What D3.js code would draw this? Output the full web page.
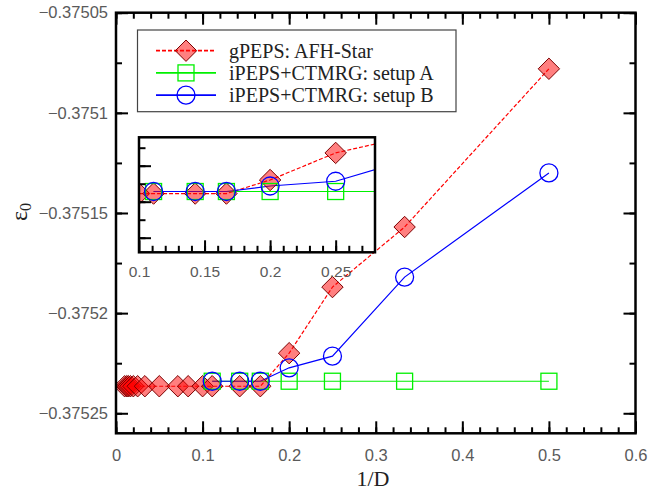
<!DOCTYPE html>
<html>
<head>
<meta charset="utf-8">
<style>
body { margin: 0; background: #fff; }
svg { display: block; }
.tick text { font-family: "Liberation Sans", Arial, sans-serif; fill: #5a5a5a; }
.tick line { stroke: #000; }
</style>
</head>
<body>
<svg width="649" height="498"></svg>
<script src="https://cdn.jsdelivr.net/npm/d3@7/dist/d3.min.js"></script>
<script>

// bond dimension D, plotted at x = 1/D
var gpepsD = [2, 3, 4, 5, 6, 7, 9, 10, 12, 14, 20, 30, 40, 50, 60, 70, 80, 100];
var gpepsE = [-0.375078, -0.375157, -0.375187, -0.37522, -0.3752365, -0.3752365, -0.3752365,
              -0.3752365, -0.3752365, -0.3752365, -0.3752365, -0.3752365, -0.3752365,
              -0.3752365, -0.3752365, -0.3752365, -0.3752365, -0.3752365];
var setupAD = [2, 3, 4, 5, 6, 7, 9];
var setupAE = [-0.375234, -0.375234, -0.375234, -0.375234, -0.375234, -0.375234, -0.375234];
var setupBD = [2, 3, 4, 5, 6, 7, 9];
var setupBE = [-0.37513, -0.375182, -0.3752215, -0.3752273, -0.375234, -0.375234, -0.375234];

var xTicks = [0, 0.1, 0.2, 0.3, 0.4, 0.5, 0.6];
var yTicks = [-0.37525, -0.3752, -0.37515, -0.3751, -0.37505];
var insetXTicks = [0.1, 0.15, 0.2, 0.25];
var legendLabels = ["gPEPS: AFH-Star", "iPEPS+CTMRG: setup A", "iPEPS+CTMRG: setup B"];

var svg = d3.select("svg"),
    margin = {top: 12.7, right: 13.5, bottom: 64.7, left: 116},
    width = 649 - margin.left - margin.right,
    height = 498 - margin.top - margin.bottom;

var pts = (D, E) => D.map((d, i) => ({x: 1 / d, y: E[i]}));
var series = [
  {name: legendLabels[0], data: pts(gpepsD, gpepsE), color: "#ff0000", dash: "4,2", marker: "diamond"},
  {name: legendLabels[1], data: pts(setupAD, setupAE), color: "#00f000", dash: null, marker: "square"},
  {name: legendLabels[2], data: pts(setupBD, setupBE), color: "#0000ff", dash: null, marker: "circle"}
];

var x = d3.scaleLinear().domain([0, 0.6]).range([0, width]),
    y = d3.scaleLinear().domain([-0.37526, -0.37505]).range([height, 0]);

var g = svg.append("g").attr("transform", "translate(" + margin.left + "," + margin.top + ")");

function drawMarker(sel, m) {
  if (m === "diamond") {
    sel.append("path").attr("d", "M0,-10.7L10.7,0L0,10.7L-10.7,0Z")
      .attr("fill", "rgba(255,0,0,0.5)").attr("stroke", "#7a0000").attr("stroke-width", 1);
  } else if (m === "square") {
    sel.append("rect").attr("x", -8).attr("y", -8).attr("width", 16).attr("height", 16)
      .attr("fill", "none").attr("stroke", "#00f000").attr("stroke-width", 1.3);
  } else {
    sel.append("circle").attr("r", 9)
      .attr("fill", "none").attr("stroke", "#0000ff").attr("stroke-width", 1.3);
  }
}

function drawSeries(parent, xs, ys) {
  series.forEach(s => {
    var line = d3.line().x(d => xs(d.x)).y(d => ys(d.y));
    parent.append("path").datum(s.data)
      .attr("d", line).attr("fill", "none")
      .attr("stroke", s.color).attr("stroke-width", 1.2)
      .attr("stroke-dasharray", s.dash);
  });
  series.forEach(s => {
    parent.append("g").selectAll("g").data(s.data.slice().reverse()).join("g")
      .attr("transform", d => "translate(" + xs(d.x) + "," + ys(d.y) + ")")
      .each(function() { drawMarker(d3.select(this), s.marker); });
  });
}

// main axes, ticks pointing inward
var minorX = d3.range(0, 0.6001, 0.02), minorY = d3.range(-0.37525, -0.37504, 0.000025);
function ticks(axis, vals, size, labels, pad) {
  return axis.tickValues(vals).tickSize(size).tickPadding(pad || 0)
    .tickFormat(labels || "");
}
g.append("g").attr("transform", "translate(0," + height + ")")
  .call(ticks(d3.axisBottom(x), minorX, -6));
g.append("g").attr("transform", "translate(0," + height + ")")
  .call(ticks(d3.axisBottom(x), xTicks, -12, d3.format(".1~f"), 16));
g.append("g").call(ticks(d3.axisTop(x), minorX, -6));
g.append("g").call(ticks(d3.axisTop(x), xTicks, -12));
g.append("g").call(ticks(d3.axisLeft(y), minorY, -6));
g.append("g").call(ticks(d3.axisLeft(y), yTicks, -12, d3.format(".5~f"), 8));
g.append("g").attr("transform", "translate(" + width + ",0)").call(ticks(d3.axisRight(y), minorY, -6));
g.append("g").attr("transform", "translate(" + width + ",0)").call(ticks(d3.axisRight(y), yTicks, -12));
g.selectAll(".domain").remove();
g.selectAll(".tick line").attr("stroke-width", 2);
g.selectAll(".tick text").attr("font-size", 16.5);

var clipMain = svg.append("clipPath").attr("id", "clipMain")
  .append("rect").attr("width", width).attr("height", height);
drawSeries(g.append("g").attr("clip-path", "url(#clipMain)"), x, y);

g.append("rect").attr("width", width).attr("height", height)
  .attr("fill", "none").attr("stroke", "#000").attr("stroke-width", 2.5);

// inset
var inset = {left: 139, top: 137.3, w: 236, h: 115};
var ix = d3.scaleLinear().domain([0.1, 0.28]).range([0, inset.w]),
    iy = d3.scaleLinear().domain([-0.375308, -0.375168]).range([inset.h, 0]);
var ig = svg.append("g").attr("transform", "translate(" + inset.left + "," + inset.top + ")");
ig.append("rect").attr("width", inset.w).attr("height", inset.h).attr("fill", "#fff");
svg.append("clipPath").attr("id", "clipInset")
  .append("rect").attr("width", inset.w).attr("height", inset.h);
drawSeries(ig.append("g").attr("clip-path", "url(#clipInset)"), ix, iy);

var insetMinorY = d3.range(0, 6).map(i => iy.invert(10.4 + 18 * i));
var insetMajorY = insetMinorY.filter((d, i) => i % 2 === 1);
ig.append("g").attr("transform", "translate(0," + inset.h + ")")
  .call(ticks(d3.axisBottom(ix), d3.range(0.11, 0.275, 0.01), -6.5));
ig.append("g").attr("transform", "translate(0," + inset.h + ")")
  .call(ticks(d3.axisBottom(ix), insetXTicks, -12, d3.format(".2~f"), 14));
ig.append("g").call(ticks(d3.axisLeft(iy), insetMinorY, -6.5));
ig.append("g").call(ticks(d3.axisLeft(iy), insetMajorY, -12));
ig.selectAll(".domain").remove();
ig.selectAll(".tick line").attr("stroke-width", 2);
ig.selectAll(".tick text").attr("font-size", 15.5);
ig.append("rect").attr("width", inset.w).attr("height", inset.h)
  .attr("fill", "none").attr("stroke", "#000").attr("stroke-width", 2.5);

// axis titles
svg.append("text").attr("x", 373).attr("y", 486).attr("text-anchor", "middle")
  .attr("font-family", "Liberation Serif, Times New Roman, serif").attr("font-size", 22)
  .attr("fill", "#222").text("1/D");
var yl = svg.append("text").attr("transform", "translate(27,212) rotate(-90)")
  .attr("text-anchor", "middle")
  .attr("font-family", "Liberation Serif, Times New Roman, serif").attr("font-size", 24)
  .attr("fill", "#222");
yl.append("tspan").text("ε");
yl.append("tspan").attr("font-size", 16).attr("dy", 4).text("0");

// legend
var lg = svg.append("g").attr("transform", "translate(137.5,30)");
lg.append("rect").attr("width", 318.5).attr("height", 81.7)
  .attr("fill", "#fff").attr("stroke", "#444").attr("stroke-width", 1.2);
series.forEach((s, i) => {
  var row = lg.append("g").attr("transform", "translate(0," + (20.7 + i * 22.2) + ")");
  row.append("line").attr("x1", 18.5).attr("x2", 78.5)
    .attr("stroke", s.color).attr("stroke-width", 1.8).attr("stroke-dasharray", s.dash);
  drawMarker(row.append("g").attr("transform", "translate(48.5,0)"), s.marker);
  row.append("text").attr("x", 91.5).attr("dy", "0.35em")
    .attr("font-family", "Liberation Serif, Times New Roman, serif").attr("font-size", 20)
    .attr("fill", "#222").text(s.name);
});

</script>
</body>
</html>
